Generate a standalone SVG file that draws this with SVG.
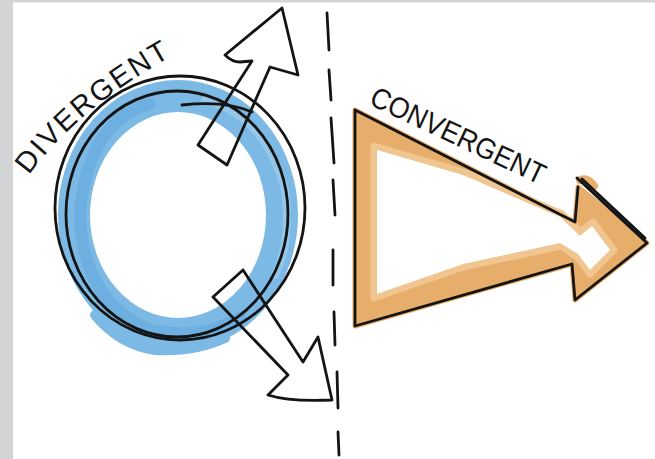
<svg xmlns="http://www.w3.org/2000/svg" width="655" height="459" viewBox="0 0 655 459">
  <style>
    .ink { fill: none; stroke: #141414; stroke-width: 2.8; stroke-linecap: round; stroke-linejoin: round; }
    .label { font-family: "Liberation Sans", Arial, sans-serif; font-size: 29px; fill: #141414; }
  </style>
  <g id="background">
    <rect x="0" y="0" width="655" height="459" fill="#ffffff"/>
    <rect x="0" y="0" width="13" height="459" fill="#d3d4d6"/>
    <rect x="0" y="0" width="655" height="2.5" fill="#d3d4d6"/>
  </g>

  <g id="divergent">
    <!-- blue wash -->
    <ellipse cx="178" cy="215" rx="104" ry="119" fill="none" stroke="#7cb9e4" stroke-width="32"/>
    <path d="M 95 315 Q 120 345 155 350 Q 195 352 225 338" fill="none" stroke="#7cb9e4" stroke-width="10" stroke-linecap="round"/>
    <path d="M 150 104 Q 90 120 80 210 Q 80 300 150 330 Q 200 340 240 318" fill="none" stroke="#66abde" stroke-width="12" stroke-linecap="round" opacity="0.7"/>
    <path d="M 205 100 Q 265 115 285 190 Q 292 240 275 275" fill="none" stroke="#a6d0ef" stroke-width="8" stroke-linecap="round" opacity="0.6"/>
    <!-- black rings -->
    <ellipse class="ink" cx="180" cy="208" rx="125" ry="132"/>
    <ellipse class="ink" cx="177" cy="214" rx="111" ry="123"/>
    <path class="ink" d="M 182 105 Q 225 100 252 112"/>
    <!-- outward arrows -->
    <path id="arrow-up" class="ink" d="M 282 8 L 225 55 Q 232 62 240 62 L 252 61 L 198 145 L 227 165 L 270 67 L 298 75 Z"/>
    <path id="arrow-down" class="ink" d="M 243 270 L 213 297 M 243 270 L 303 362 L 318 337 L 332 400 Q 290 402 268 395 L 288 375 L 213 297"/>
    <!-- label -->
    <path id="divPath" d="M 29 175 Q 76 110 170 57" fill="none"/>
    <text class="label"><textPath href="#divPath" textLength="186" lengthAdjust="spacing">DIVERGENT</textPath></text>
  </g>

  <g id="divider">
    <path class="ink" stroke-width="3" d="M 327 13 L 329 50 M 329 70 L 331 100 M 331 118 L 334 163 M 333 180 L 335 215 M 333 250 L 333 285 M 334 312 L 335 345 M 337 372 L 338 408 M 338 432 L 339 455"/>
  </g>

  <g id="convergent">
    <!-- orange wash -->
    <path d="M 355 110 L 575 222 L 578 187 L 647 243 L 575 300 L 572 264 L 355 326 Z" fill="#e6ae6a" stroke="#e6ae6a" stroke-width="5" stroke-linejoin="round"/>
    <path d="M 580 180 Q 588 177 594 186" fill="none" stroke="#e6ae6a" stroke-width="8" stroke-linecap="round"/>
    <path d="M 374 146 L 463 172 L 562 214 L 580 232 L 593 222 L 614 250 L 590 274 L 578 258 L 562 246 L 463 267 L 374 298 Z" fill="#ffffff" stroke="#f0c58f" stroke-width="7" stroke-linejoin="round"/>
    <path d="M 377 150 L 463 175 L 560 217 L 580 236 L 592 226 L 610 250 L 590 270 L 578 254 L 560 243 L 463 264 L 377 294 Z" fill="#ffffff"/>
    <!-- black outline -->
    <path class="ink" d="M 355 110 L 575 222 L 578 187 M 577 178 L 647 243 L 575 300 L 572 264 L 355 326 L 355 110"/>
    <path class="ink" stroke-width="2" d="M 582 179 L 645 238"/>
    <!-- label -->
    <text class="label" x="368" y="104" transform="rotate(25.2 368 104)" textLength="190" lengthAdjust="spacingAndGlyphs">CONVERGENT</text>
  </g>
</svg>
